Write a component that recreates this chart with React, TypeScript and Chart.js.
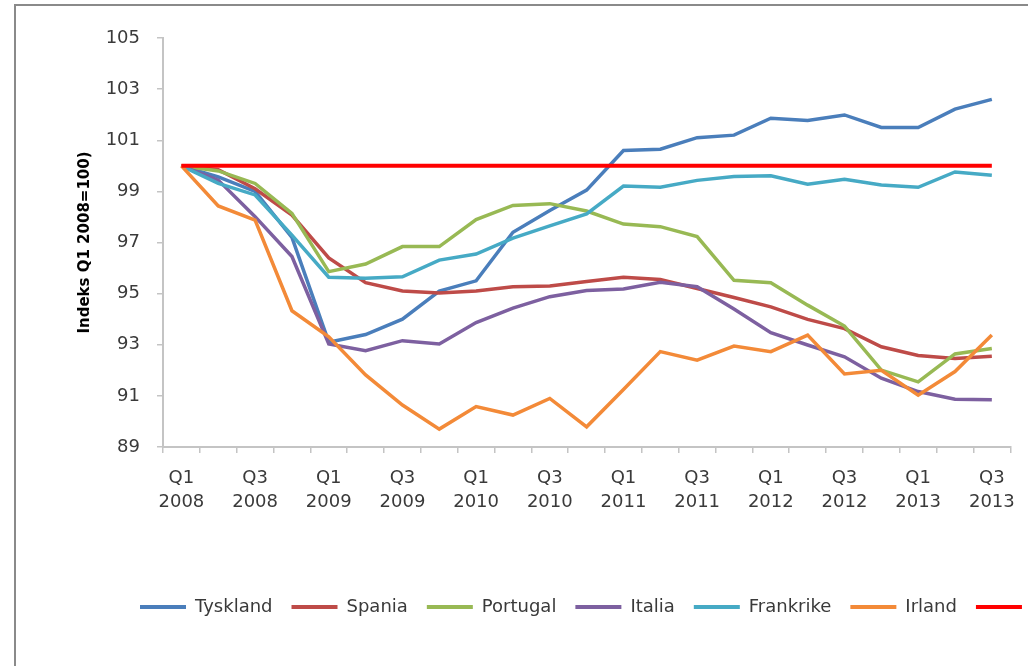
import React, { useEffect, useRef } from 'react';
import { Chart, registerables } from 'chart.js';

Chart.register(...registerables);

const quarters = [
  'Q1 2008', 'Q2 2008', 'Q3 2008', 'Q4 2008',
  'Q1 2009', 'Q2 2009', 'Q3 2009', 'Q4 2009',
  'Q1 2010', 'Q2 2010', 'Q3 2010', 'Q4 2010',
  'Q1 2011', 'Q2 2011', 'Q3 2011', 'Q4 2011',
  'Q1 2012', 'Q2 2012', 'Q3 2012', 'Q4 2012',
  'Q1 2013', 'Q2 2013', 'Q3 2013',
];

const tyskland = [100, 99.57, 99.0, 97.2, 93.1, 93.4, 94.0, 95.1, 95.5, 97.4, 98.25, 99.05, 100.6, 100.65, 101.1, 101.2, 101.86, 101.77, 101.99, 101.5, 101.5, 102.22, 102.6];
const spania = [100, 99.85, 99.1, 98.07, 96.4, 95.43, 95.1, 95.02, 95.1, 95.27, 95.3, 95.47, 95.64, 95.55, 95.2, 94.85, 94.48, 93.99, 93.63, 92.92, 92.58, 92.46, 92.55];
const portugal = [100, 99.8, 99.31, 98.14, 95.86, 96.16, 96.84, 96.84, 97.9, 98.45, 98.52, 98.23, 97.72, 97.62, 97.23, 95.52, 95.43, 94.55, 93.73, 92.01, 91.55, 92.64, 92.85];
const italia = [100, 99.44, 98.01, 96.45, 93.03, 92.77, 93.16, 93.03, 93.87, 94.43, 94.88, 95.12, 95.18, 95.44, 95.27, 94.4, 93.47, 92.99, 92.53, 91.69, 91.17, 90.87, 90.85];
const frankrike = [100, 99.31, 98.86, 97.29, 95.64, 95.6, 95.66, 96.31, 96.55, 97.17, 97.65, 98.12, 99.21, 99.16, 99.43, 99.58, 99.61, 99.28, 99.47, 99.25, 99.16, 99.76, 99.63];
const irland = [100, 98.43, 97.88, 94.33, 93.31, 91.82, 90.64, 89.7, 90.58, 90.25, 90.9, 89.79, 91.25, 92.73, 92.4, 92.95, 92.73, 93.38, 91.86, 92.0, 91.03, 91.95, 93.38];
const referanse = [100, 100, 100, 100, 100, 100, 100, 100, 100, 100, 100, 100, 100, 100, 100, 100, 100, 100, 100, 100, 100, 100, 100];

const seriesNames = ['Tyskland', 'Spania', 'Portugal', 'Italia', 'Frankrike', 'Irland', ''];
const seriesColors = ['#4A7EBB', '#BE4B48', '#98B954', '#7D60A0', '#46AAC5', '#F38A38', '#FF0000'];
const seriesValues = [tyskland, spania, portugal, italia, frankrike, irland, referanse];

const yMin = 89;
const yMax = 105;
const yStep = 2;
const yTitle = 'Indeks Q1 2008=100)';

const FONT = '"DejaVu Sans", sans-serif';

const legendShift = {
  id: 'legendShift',
  afterLayout(chart: any, _args: any, opts: any) {
    const lg = chart.legend;
    if (lg) {
      lg.left += opts.dx || 0;
      lg.right += opts.dx || 0;
    }
  },
};

export default function App() {
  const ref = useRef<HTMLCanvasElement | null>(null);

  useEffect(() => {
    if (!ref.current) return;
    // Reverse order so later series are drawn on top (as in Excel); legend reversed back.
    const datasets = seriesNames
      .map((name, i) => ({
        label: name,
        data: seriesValues[i],
        borderColor: seriesColors[i],
        backgroundColor: seriesColors[i],
        borderWidth: i === 6 ? 4 : 3.5,
        pointRadius: 0,
        pointHoverRadius: 0,
        pointBorderWidth: 4,
        pointBorderColor: seriesColors[i],
        tension: 0,
        fill: false,
      }))
      .reverse();

    const chart = new Chart(ref.current, {
      type: 'line',
      data: { labels: quarters, datasets },
      plugins: [legendShift],
      options: {
        animation: false,
        responsive: false,
        events: [],
        layout: { padding: { left: 20, right: 12, top: 38, bottom: 40 } },
        plugins: {
          tooltip: { enabled: false },
          legendShift: { dx: 101 },
          legend: {
            position: 'bottom',
            align: 'start',
            reverse: true,
            labels: {
              usePointStyle: true,
              pointStyle: 'line',
              pointStyleWidth: 46,
              padding: 19,
              color: '#3a3a3a',
              font: { family: FONT, size: 18 },
            },
          },
        } as any,
        scales: {
          x: {
            type: 'category',
            offset: true,
            afterFit: (scale: any) => {
              scale.height = 132;
            },
            grid: {
              offset: true,
              drawOnChartArea: false,
              drawTicks: true,
              tickLength: 6,
              color: '#c4c4c4',
              lineWidth: 1.5,
            },
            border: { display: true, color: '#c4c4c4', width: 2 },
            ticks: {
              autoSkip: false,
              maxRotation: 0,
              minRotation: 0,
              padding: 13,
              color: '#3a3a3a',
              font: { family: FONT, size: 18, lineHeight: 1.35 },
              callback: (_v: any, index: number) =>
                index % 2 === 0 ? quarters[index].split(' ') : '',
            },
          },
          y: {
            min: yMin,
            max: yMax,
            afterFit: (scale: any) => {
              scale.width = 143;
            },
            grid: {
              drawOnChartArea: false,
              drawTicks: true,
              tickLength: 6,
              color: '#c4c4c4',
              lineWidth: 1.5,
            },
            border: { display: true, color: '#c4c4c4', width: 2 },
            ticks: {
              stepSize: yStep,
              padding: 17,
              color: '#3a3a3a',
              font: { family: FONT, size: 18 },
            },
            title: {
              display: true,
              text: yTitle,
              color: '#000000',
              padding: { top: 56, bottom: 0 },
              font: { family: FONT, size: 15, weight: 'bold' },
            },
          },
        },
      } as any,
    });
    return () => chart.destroy();
  }, []);

  return (
    <div
      style={{
        position: 'fixed',
        left: 0,
        top: 0,
        width: 1028,
        height: 666,
        overflow: 'hidden',
        background: '#ffffff',
      }}
    >
      <div
        style={{
          position: 'absolute',
          left: 14,
          top: 4,
          width: 1100,
          height: 700,
          border: '2px solid #8a8a8a',
          boxSizing: 'border-box',
        }}
      />
      <canvas
        ref={ref}
        width={1028}
        height={666}
        style={{ position: 'absolute', left: 0, top: 0, width: 1028, height: 666 }}
      />
    </div>
  );
}
